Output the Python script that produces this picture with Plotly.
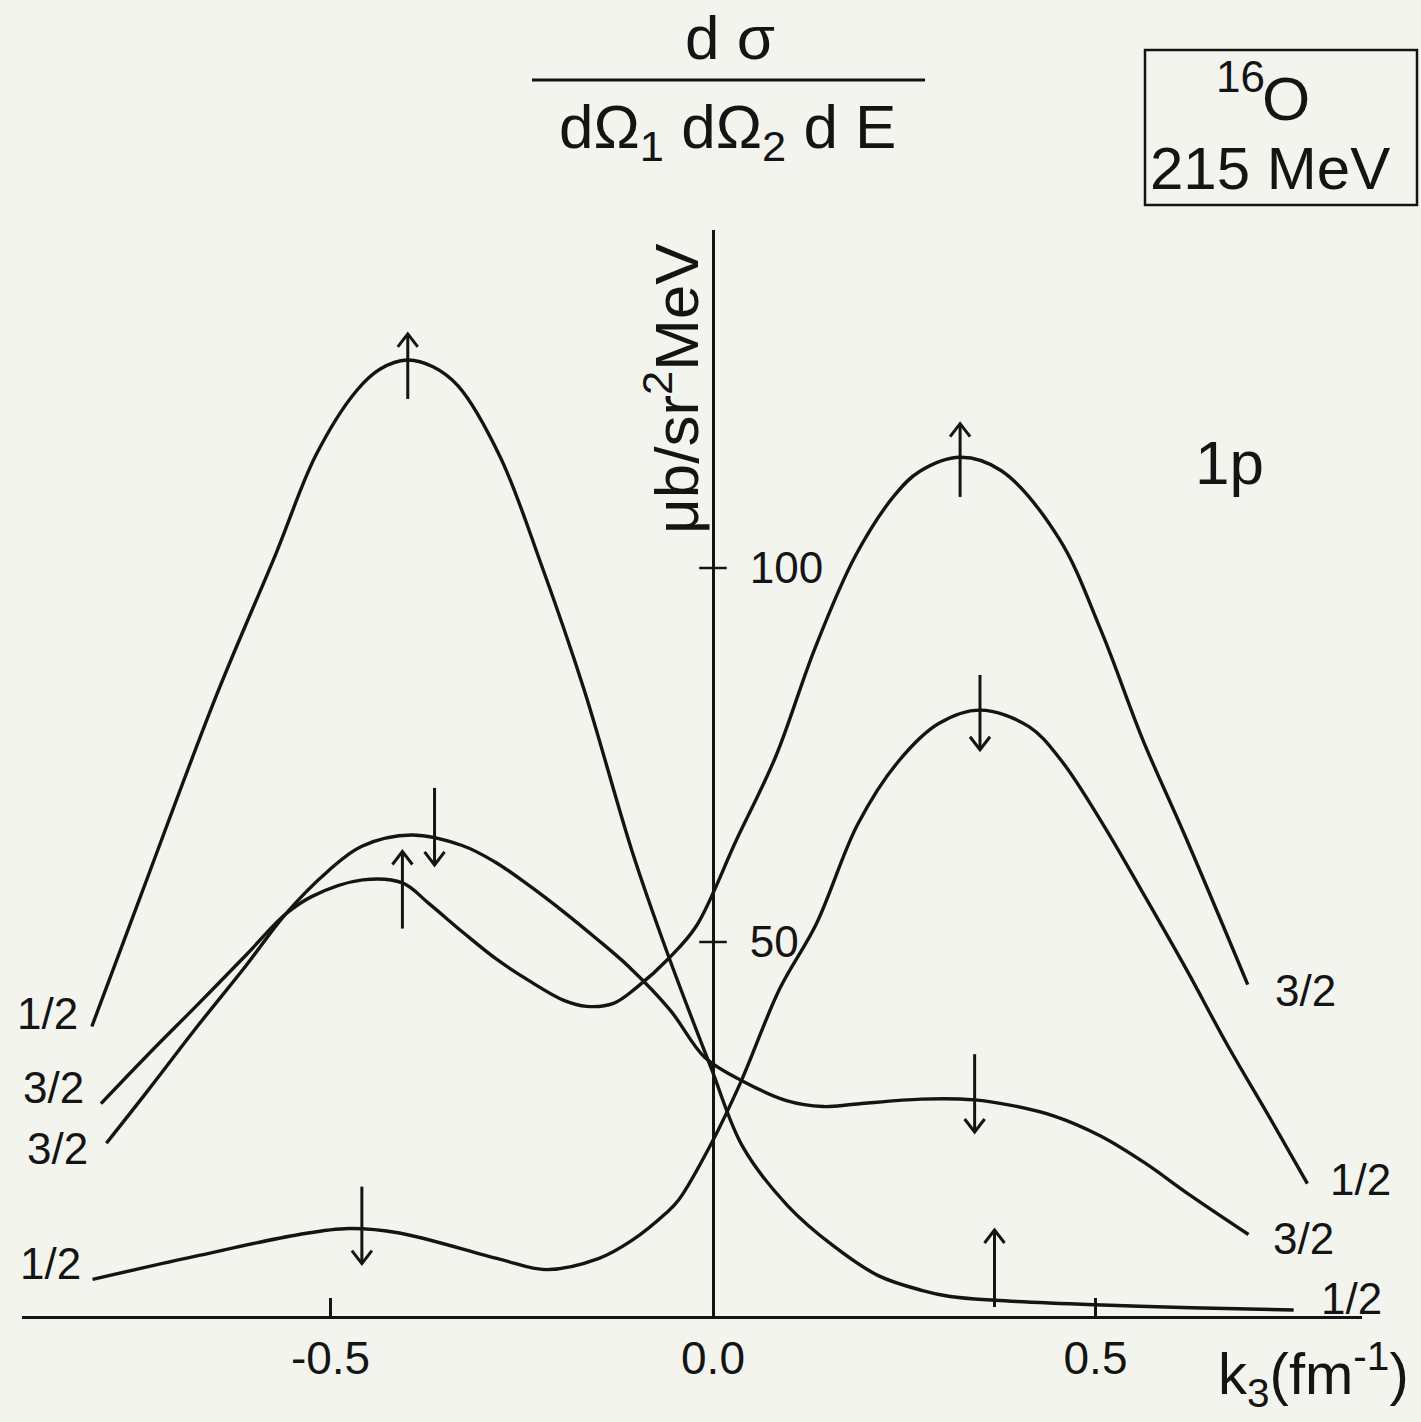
import plotly.graph_objects as go

W, H = 1421, 1422
INK = "#141414"
BG = "#f4f4ef"
FONT = "Liberation Sans"

# ---- data: k3 (fm^-1) vs cross section (microbarn / sr^2 MeV) ----
# 1p1/2, spin up
k_half_up = [-0.812, -0.748, -0.649, -0.571, -0.519, -0.466, -0.435, -0.400, -0.366, -0.333,
             -0.278, -0.225, -0.169, -0.106, -0.061, -0.003, 0.039, 0.098, 0.157, 0.216,
             0.274, 0.310, 0.368, 0.499, 0.625, 0.759]
s_half_up = [38.7, 56.2, 83.0, 102.0, 115.1, 123.7, 126.6, 127.8, 126.9, 124.3,
             114.8, 100.6, 83.9, 62.2, 48.9, 33.3, 22.6, 14.7, 9.4, 5.4,
             3.4, 2.6, 2.1, 1.5, 1.1, 0.8]

# 1p3/2, spin up
k_three_up = [-0.800, -0.740, -0.675, -0.610, -0.559, -0.524, -0.458, -0.406, -0.372,
              -0.327, -0.283, -0.240, -0.195, -0.165, -0.130, -0.100, -0.057, -0.022,
              0.030, 0.082, 0.133, 0.186, 0.238, 0.270, 0.323, 0.377, 0.452,
              0.507, 0.562, 0.617, 0.699]
s_three_up = [28.4, 34.8, 41.5, 48.3, 53.7, 56.1, 58.3, 57.9, 55.2,
              51.3, 47.7, 44.8, 42.2, 41.4, 41.8, 43.9, 47.9, 52.1,
              63.5, 74.8, 89.2, 101.6, 109.8, 112.9, 114.8, 113.0, 104.0,
              91.7, 77.0, 64.2, 44.3]

# 1p3/2, spin down
k_three_dn = [-0.793, -0.739, -0.675, -0.610, -0.559, -0.503, -0.459, -0.394, -0.328,
              -0.285, -0.241, -0.196, -0.153, -0.109, -0.056, -0.011, 0.039, 0.096,
              0.144, 0.184, 0.272, 0.342, 0.388, 0.447, 0.506, 0.564, 0.623, 0.700]
s_three_dn = [23.1, 30.1, 38.6, 46.9, 53.7, 59.5, 62.8, 64.3, 62.9,
              60.7, 57.6, 54.1, 50.5, 46.6, 40.9, 34.6, 31.4, 28.8,
              28.0, 28.3, 29.0, 28.9, 28.2, 26.7, 24.1, 20.5, 16.2, 10.9]

# 1p1/2, spin down
k_half_dn = [-0.811, -0.672, -0.541, -0.476, -0.410, -0.279, -0.218, -0.149, -0.106,
             -0.062, -0.045, -0.002, 0.036, 0.087, 0.135, 0.189, 0.242, 0.295,
             0.349, 0.413, 0.455, 0.510, 0.564, 0.619, 0.672, 0.725, 0.777]
s_half_dn = [4.9, 8.1, 10.9, 11.7, 11.1, 7.6, 6.2, 7.7, 10.1,
             13.7, 15.5, 23.1, 31.2, 43.7, 52.4, 65.7, 74.1, 79.2,
             81.0, 78.8, 74.3, 65.7, 56.2, 46.3, 36.3, 27.0, 17.7]

# spin arrows: position, tail value, tip value
arrow_k = [-0.399, 0.368, -0.406, 0.323, -0.364, 0.342, -0.459, 0.349]
arrow_from = [122.6, 1.2, 51.8, 109.5, 70.6, 35.0, 17.3, 85.7]
arrow_to = [131.3, 11.5, 62.1, 119.3, 60.3, 24.6, 7.0, 75.7]

x_tick_vals = [-0.5, 0.0, 0.5]
x_tick_text = ["-0.5", "0.0", "0.5"]
y_tick_vals = [50, 100]
y_tick_text = ["50", "100"]

# curve-end labels: text, pixel centre
left_labels = [("1/2", 47, 1013), ("3/2", 53, 1087), ("3/2", 57, 1148), ("1/2", 50, 1263)]
right_labels = [("3/2", 1305, 990), ("1/2", 1360, 1179), ("3/2", 1303, 1238), ("1/2", 1351, 1298)]

# plot scale (pixels per data unit) used for arrowhead sizing
X0_PX, PX_PER_K = 713, 765.0
Y0_PX, PX_PER_S = 1316, 7.48
HEAD_HALF_W = 10 / PX_PER_K
HEAD_LEN = 13 / PX_PER_S


def px(x):
    return x / W


def py(y):
    return 1 - y / H


fig = go.Figure()
for k, s in [(k_half_up, s_half_up), (k_three_up, s_three_up),
             (k_three_dn, s_three_dn), (k_half_dn, s_half_dn)]:
    fig.add_trace(go.Scatter(x=k, y=s, mode="lines",
                             line=dict(color=INK, width=3.4, shape="spline", smoothing=1.0),
                             showlegend=False, hoverinfo="skip"))

# arrows: shaft + open chevron head
ax_x, ax_y = [], []
for k, a0, a1 in zip(arrow_k, arrow_from, arrow_to):
    d = 1 if a1 > a0 else -1
    ax_x += [k, k, None, k - HEAD_HALF_W, k, k + HEAD_HALF_W, None]
    ax_y += [a0, a1, None, a1 - d * HEAD_LEN, a1, a1 - d * HEAD_LEN, None]
fig.add_trace(go.Scatter(x=ax_x, y=ax_y, mode="lines",
                         line=dict(color=INK, width=3), showlegend=False, hoverinfo="skip"))

ann = []


def label(text, x, y, size, **kw):
    d = dict(text=text, x=px(x), y=py(y), xref="paper", yref="paper",
             showarrow=False, xanchor="center", yanchor="middle",
             font=dict(family=FONT, size=size, color=INK))
    d.update(kw)
    ann.append(d)


for t, x, y in left_labels + right_labels:
    label(t, x, y, 44)

label("d σ", 730, 38, 62)
label("dΩ<sub>1</sub> dΩ<sub>2</sub> d E", 727, 131, 62)
label("16", 1240, 76, 44)
label("O", 1286, 98, 62)
label("215 MeV", 1270, 168, 60)
label("1p", 1229, 462, 62)
label("μb/sr<sup>2</sup>MeV", 672, 389, 62, textangle=-90)
label("k<sub>3</sub>(fm<sup>-1</sup>)", 1313, 1374, 58)

shapes = [
    dict(type="line", xref="paper", yref="paper", x0=px(532), x1=px(925),
         y0=py(80), y1=py(80), line=dict(color=INK, width=3)),
    dict(type="rect", xref="paper", yref="paper", x0=px(1145), x1=px(1417),
         y0=py(205), y1=py(50), line=dict(color=INK, width=2.5)),
]
for v in y_tick_vals:
    shapes.append(dict(type="line", xref="x", yref="y", x0=-0.018, x1=0.018,
                       y0=v, y1=v, line=dict(color=INK, width=2.5)))

fig.update_layout(
    width=W, height=H, autosize=False,
    margin=dict(l=0, r=0, t=0, b=0, pad=0),
    paper_bgcolor=BG, plot_bgcolor=BG,
    font=dict(family=FONT, color=INK),
    showlegend=False,
    annotations=ann, shapes=shapes,
    xaxis=dict(domain=[22 / W, 1362 / W],
               range=[(22 - X0_PX) / PX_PER_K, (1362 - X0_PX) / PX_PER_K],
               showline=True, linecolor=INK, linewidth=3, showgrid=False, zeroline=False,
               ticks="inside", ticklen=18, tickwidth=2.5, tickcolor=INK,
               tickvals=x_tick_vals, ticktext=x_tick_text, ticklabelstandoff=0,
               tickfont=dict(family=FONT, size=46, color=INK)),
    yaxis=dict(domain=[(H - Y0_PX) / H, (H - 230) / H],
               range=[0, (Y0_PX - 230) / PX_PER_S],
               anchor="free", position=X0_PX / W, side="right",
               showline=True, linecolor=INK, linewidth=3, showgrid=False, zeroline=False,
               ticks="", tickvals=y_tick_vals, ticktext=y_tick_text, ticklabelstandoff=26,
               tickfont=dict(family=FONT, size=44, color=INK)),
)

fig.write_html("out.html")
